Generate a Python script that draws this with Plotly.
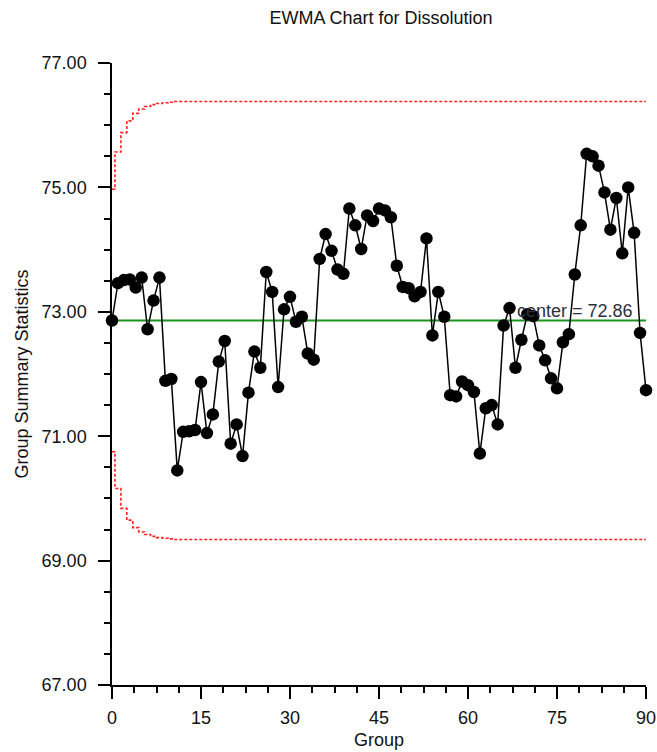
import plotly.graph_objects as go

groups = list(range(0, 91))
ewma = [72.86, 73.46, 73.51, 73.52, 73.39, 73.55, 72.72, 73.18, 73.55, 71.89,
        71.92, 70.45, 71.07, 71.08, 71.10, 71.87, 71.05, 71.35, 72.20, 72.53,
        70.88, 71.19, 70.68, 71.70, 72.36, 72.10, 73.64, 73.32, 71.79, 73.04,
        73.24, 72.84, 72.92, 72.33, 72.23, 73.85, 74.25, 73.98, 73.68, 73.61,
        74.66, 74.39, 74.01, 74.55, 74.46, 74.66, 74.63, 74.52, 73.74, 73.40,
        73.38, 73.25, 73.32, 74.18, 72.62, 73.32, 72.92, 71.66, 71.64, 71.88,
        71.82, 71.71, 70.72, 71.45, 71.50, 71.19, 72.78, 73.06, 72.10, 72.55,
        72.96, 72.93, 72.46, 72.22, 71.93, 71.77, 72.51, 72.64, 73.60, 74.39,
        75.54, 75.50, 75.35, 74.92, 74.32, 74.83, 73.94, 75.00, 74.27, 72.66,
        71.74]
ucl = [74.97, 75.57, 75.88, 76.07, 76.19, 76.26, 76.30, 76.33, 76.35, 76.36,
       76.37] + [76.38] * 80
lcl = [70.75, 70.16, 69.84, 69.65, 69.53, 69.46, 69.42, 69.39, 69.37, 69.36,
       69.35] + [69.34] * 80
center = 72.86
y_ticks = [67, 69, 71, 73, 75, 77]
x_ticks = [0, 15, 30, 45, 60, 75, 90]

FONT = "Liberation Sans, Arial, sans-serif"

fig = go.Figure()
fig.add_trace(go.Scatter(x=groups, y=ucl, mode="lines", line_shape="hvh",
                         line=dict(color="#ff2020", width=1.6, dash="3px,2px"),
                         hoverinfo="skip", cliponaxis=False))
fig.add_trace(go.Scatter(x=groups, y=lcl, mode="lines", line_shape="hvh",
                         line=dict(color="#ff2020", width=1.6, dash="3px,2px"),
                         hoverinfo="skip", cliponaxis=False))
fig.add_trace(go.Scatter(x=[groups[0], groups[-1]], y=[center, center], mode="lines",
                         line=dict(color="#1a941a", width=1.8), cliponaxis=False))
fig.add_trace(go.Scatter(x=groups, y=ewma, mode="lines+markers",
                         line=dict(color="black", width=1.5),
                         marker=dict(color="black", size=12.5, symbol="circle"),
                         cliponaxis=False))

fig.add_annotation(x=68, y=center, xref="x", yref="y", text="center = 72.86",
                   showarrow=False, xanchor="left", yanchor="bottom",
                   font=dict(family=FONT, size=18, color="#2b3040"), yshift=-2)

fig.update_layout(
    width=657, height=752,
    margin=dict(l=112, r=11, t=63, b=67, autoexpand=False),
    paper_bgcolor="white", plot_bgcolor="white",
    showlegend=False,
    font=dict(family=FONT, size=18, color="#111111"),
    title=dict(text="EWMA Chart for Dissolution", x=0.58, xanchor="center",
               y=0.976, yanchor="middle", automargin=False,
               font=dict(family=FONT, size=18, color="#111111")),
)
fig.update_xaxes(range=[0, 90], tickvals=x_ticks, ticks="outside", ticklen=12,
                 tickwidth=1.5, tickcolor="black", showline=True, linecolor="black",
                 linewidth=1.5, showgrid=False, zeroline=False, automargin=False,
                 ticklabelstandoff=4,
                 minor=dict(dtick=3.75, ticks="outside", ticklen=6, tickwidth=1.5,
                            tickcolor="black", showgrid=False),
                 title=dict(text="Group", standoff=6, font=dict(size=18)))
fig.update_yaxes(range=[67, 77], tickvals=y_ticks, tickformat=".2f", ticks="outside",
                 ticklen=12, tickwidth=1.5, tickcolor="black", showline=True,
                 linecolor="black", linewidth=1.5, showgrid=False, zeroline=False,
                 automargin=False, ticklabelstandoff=8,
                 minor=dict(dtick=0.5, ticks="outside", ticklen=6, tickwidth=1.5,
                            tickcolor="black", showgrid=False),
                 title=dict(text="Group Summary Statistics", standoff=8,
                            font=dict(size=18)))

fig.write_html("out.html")
